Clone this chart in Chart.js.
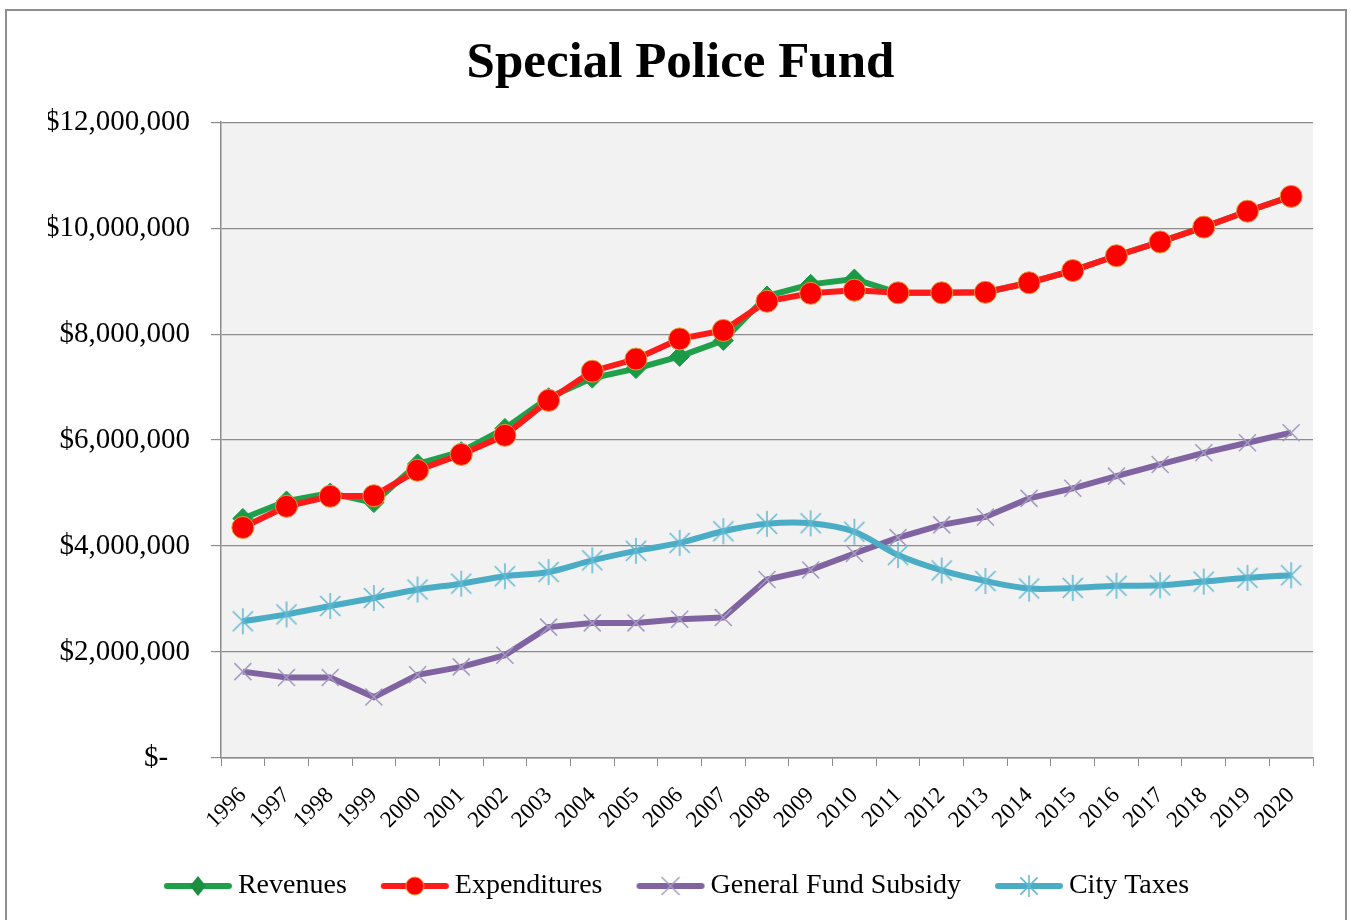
<!DOCTYPE html>
<html>
<head>
    <title>Special Police Fund</title>
    <script src="https://cdn.jsdelivr.net/npm/chart.js@4.4.0/dist/chart.umd.min.js"></script>
    <style>
        body {
            margin: 0;
            background: #fff;
            overflow: hidden;
        }
        .frame {
            position: absolute;
            left: 5px;
            top: 9px;
            width: 1338px;
            height: 940px;
            border: 2px solid #8f8f8f;
        }
        #fundChart {
            position: absolute;
            left: 0;
            top: 0;
        }
    </style>
</head>
<body>
    <div class="frame"></div>
    <canvas id="fundChart" width="1351" height="920"></canvas>

    <script>
        const years = ['1996', '1997', '1998', '1999', '2000', '2001', '2002', '2003', '2004', '2005',
            '2006', '2007', '2008', '2009', '2010', '2011', '2012', '2013', '2014', '2015',
            '2016', '2017', '2018', '2019', '2020'];

        const revenues = [4520000, 4850000, 5000000, 4820000, 5550000, 5780000, 6220000, 6800000, 7170000, 7350000,
            7580000, 7880000, 8720000, 8940000, 9040000, 8780000, 8780000, 8790000, 8970000, 9200000,
            9480000, 9740000, 10020000, 10320000, 10600000];

        const expenditures = [4350000, 4750000, 4940000, 4950000, 5430000, 5730000, 6090000, 6750000, 7300000, 7530000,
            7910000, 8070000, 8620000, 8770000, 8830000, 8780000, 8780000, 8790000, 8970000, 9200000,
            9480000, 9740000, 10020000, 10320000, 10600000];

        const generalFundSubsidy = [1630000, 1520000, 1520000, 1150000, 1570000, 1720000, 1940000, 2470000, 2550000, 2550000,
            2620000, 2650000, 3370000, 3550000, 3860000, 4160000, 4400000, 4550000, 4900000, 5090000,
            5320000, 5540000, 5760000, 5950000, 6140000];

        const cityTaxes = [2580000, 2710000, 2870000, 3020000, 3180000, 3290000, 3430000, 3510000, 3730000, 3910000,
            4060000, 4280000, 4420000, 4430000, 4270000, 3830000, 3540000, 3340000, 3200000, 3210000,
            3250000, 3260000, 3330000, 3400000, 3450000];

        const yTicks = [0, 2000000, 4000000, 6000000, 8000000, 10000000, 12000000];

        const serif = "'Liberation Serif', 'Times New Roman', serif";

        // Excel style asterisk marker (vertical bar plus an X)
        function makeStar(color, size) {
            const c = document.createElement('canvas');
            c.width = size;
            c.height = size;
            const g = c.getContext('2d');
            const m = size / 2;
            const d = size * 0.36;
            g.strokeStyle = color;
            g.lineWidth = 1.5;
            g.beginPath();
            g.moveTo(m, 1); g.lineTo(m, size - 1);
            g.moveTo(m - d, m - d); g.lineTo(m + d, m + d);
            g.moveTo(m + d, m - d); g.lineTo(m - d, m + d);
            g.stroke();
            return c;
        }

        // legend swatch: thick line with the series marker on top
        function makeLegendIcon(lineColor, marker, markerColor, edgeColor) {
            const c = document.createElement('canvas');
            c.width = 70;
            c.height = 30;
            const g = c.getContext('2d');
            const cx = 35, cy = 15;
            g.strokeStyle = lineColor;
            g.lineWidth = 6;
            g.lineCap = 'round';
            g.beginPath();
            g.moveTo(4, cy);
            g.lineTo(66, cy);
            g.stroke();

            g.lineCap = 'butt';
            if (marker === 'diamond') {
                g.fillStyle = markerColor;
                g.beginPath();
                g.moveTo(cx, cy - 10); g.lineTo(cx + 8, cy); g.lineTo(cx, cy + 10); g.lineTo(cx - 8, cy);
                g.closePath();
                g.fill();
            } else if (marker === 'circle') {
                g.fillStyle = markerColor;
                g.strokeStyle = edgeColor;
                g.lineWidth = 1;
                g.beginPath();
                g.arc(cx, cy, 9, 0, Math.PI * 2);
                g.fill();
                g.stroke();
            } else if (marker === 'x') {
                g.strokeStyle = markerColor;
                g.lineWidth = 1.5;
                g.beginPath();
                g.moveTo(cx - 9, cy - 9); g.lineTo(cx + 9, cy + 9);
                g.moveTo(cx + 9, cy - 9); g.lineTo(cx - 9, cy + 9);
                g.stroke();
            } else if (marker === 'star') {
                g.drawImage(makeStar(markerColor, 24), cx - 12, cy - 12);
            }
            return c;
        }

        const legendIcons = [
            makeLegendIcon('#20a04a', 'diamond', '#1a8f40'),
            makeLegendIcon('#ff1a1a', 'circle', '#ff0000', '#e89a3a'),
            makeLegendIcon('#8064a2', 'x', '#a49ac0'),
            makeLegendIcon('#4bacc6', 'star', '#62b8d2')
        ];

        const plotBackground = {
            id: 'plotBackground',
            beforeDraw: function(chart) {
                const a = chart.chartArea;
                const ctx = chart.ctx;
                ctx.save();
                ctx.fillStyle = '#f2f2f2';
                ctx.fillRect(a.left, a.top, a.right - a.left, a.bottom - a.top);
                ctx.restore();
            }
        };

        const ctx = document.getElementById('fundChart').getContext('2d');
        new Chart(ctx, {
            type: 'line',
            data: {
                labels: years,
                datasets: [{
                    label: 'Revenues',
                    data: revenues,
                    borderColor: '#20a04a',
                    borderWidth: 6,
                    pointStyle: 'rectRot',
                    pointRadius: 10,
                    pointBackgroundColor: '#1a9a45',
                    pointBorderColor: '#1a9a45',
                    pointBorderWidth: 1,
                    tension: 0,
                    order: 4
                }, {
                    label: 'Expenditures',
                    data: expenditures,
                    borderColor: '#ff1a1a',
                    borderWidth: 6,
                    pointStyle: 'circle',
                    pointRadius: 11,
                    pointBackgroundColor: '#ff0000',
                    pointBorderColor: '#e89a3a',
                    pointBorderWidth: 1,
                    tension: 0,
                    order: 3
                }, {
                    label: 'General Fund Subsidy',
                    data: generalFundSubsidy,
                    borderColor: '#8064a2',
                    borderWidth: 6,
                    pointStyle: 'crossRot',
                    pointRadius: 12,
                    pointBorderColor: '#a49ac0',
                    pointBorderWidth: 1.5,
                    tension: 0,
                    order: 2
                }, {
                    label: 'City Taxes',
                    data: cityTaxes,
                    borderColor: '#4bacc6',
                    borderWidth: 6,
                    pointStyle: makeStar('#62b8d2', 28),
                    pointRadius: 12,
                    tension: 0.35,
                    order: 1
                }]
            },
            options: {
                responsive: false,
                animation: false,
                layout: {
                    padding: { left: 48, right: 38, top: 10, bottom: 10 }
                },
                plugins: {
                    title: {
                        display: true,
                        text: 'Special Police Fund',
                        color: '#000',
                        font: { family: serif, size: 51, weight: 'bold' },
                        padding: { top: 23, bottom: 28 }
                    },
                    legend: {
                        position: 'bottom',
                        labels: {
                            usePointStyle: true,
                            pointStyleWidth: 52,
                            padding: 42,
                            color: '#000',
                            font: { family: serif, size: 28 },
                            generateLabels: function(chart) {
                                return chart.data.datasets.map(function(ds, i) {
                                    return {
                                        text: ds.label,
                                        pointStyle: legendIcons[i],
                                        fillStyle: 'transparent',
                                        strokeStyle: 'transparent',
                                        lineWidth: 0,
                                        hidden: false,
                                        datasetIndex: i,
                                        fontColor: '#000'
                                    };
                                });
                            }
                        }
                    },
                    tooltip: { enabled: false }
                },
                scales: {
                    x: {
                        offset: true,
                        grid: {
                            offset: true,
                            drawOnChartArea: false,
                            drawTicks: true,
                            tickLength: 8,
                            color: '#8c8c8c'
                        },
                        border: { color: '#8c8c8c', width: 1.5 },
                        ticks: {
                            autoSkip: false,
                            maxRotation: 45,
                            minRotation: 45,
                            padding: 16,
                            color: '#000',
                            font: { family: serif, size: 23 }
                        },
                        afterFit: function(scale) {
                            scale.height = 72;
                        }
                    },
                    y: {
                        min: 0,
                        max: 12000000,
                        afterBuildTicks: function(scale) {
                            scale.ticks = yTicks.map(function(v) { return { value: v }; });
                        },
                        grid: {
                            color: '#8c8c8c',
                            lineWidth: 1.2,
                            tickLength: 10
                        },
                        border: { color: '#8c8c8c', width: 1.5 },
                        ticks: {
                            padding: 21,
                            color: '#000',
                            font: { family: serif, size: 29 },
                            callback: function(v) {
                                return v === 0 ? '$-   ' : '$' + v.toLocaleString('en-US');
                            }
                        },
                        afterFit: function(scale) {
                            scale.width = 173;
                        }
                    }
                }
            },
            plugins: [plotBackground]
        });
    </script>
</body>
</html>
